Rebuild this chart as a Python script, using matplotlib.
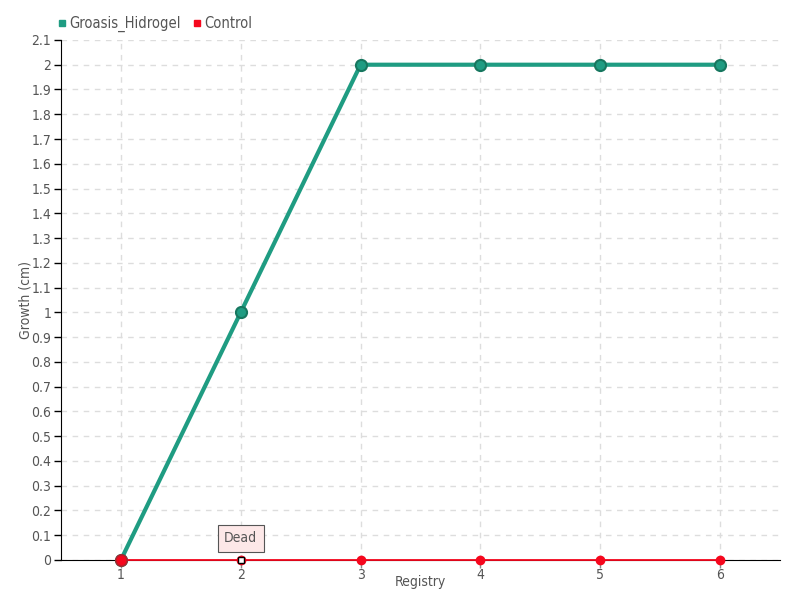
import numpy as np
import matplotlib.pyplot as plt
from matplotlib.lines import Line2D

registry = [1, 2, 3, 4, 5, 6]
groasis_hidrogel = [0, 1, 2, 2, 2, 2]
control = [0, 0, 0, 0, 0, 0]
y_ticks = [round(i * 0.1, 1) for i in range(22)]
y_labels = ["{:g}".format(v) for v in y_ticks]

plt.rcParams['font.family'] = ['DejaVu Sans']
plt.rcParams['font.stretch'] = 'condensed'
text_color = '#555555'
teal = '#1f9c82'
red = '#f5071d'

fig = plt.figure(figsize=(8, 6), dpi=100)
ax = fig.add_axes([0.07625, 0.0667, 0.89875, 0.8667])

ax.plot(registry, groasis_hidrogel, color=teal, lw=3, marker='o', ms=8,
        markerfacecolor=teal, markeredgecolor='#17775f', markeredgewidth=1.5,
        zorder=3, clip_on=False)
ax.plot(registry, control, color=red, lw=1.3, marker='o', ms=6,
        markerfacecolor=red, markeredgecolor=red, zorder=4, clip_on=False)
ax.plot(registry[0], control[0], marker='o', ms=8, markerfacecolor=red,
        markeredgecolor='#b5202a', markeredgewidth=1.2, zorder=5, clip_on=False)
ax.plot(registry[1], control[1], marker='s', ms=4.5, markerfacecolor='white',
        markeredgecolor='black', markeredgewidth=1, zorder=6, clip_on=False)

ax.annotate('Dead', xy=(registry[1], control[1]), xytext=(0, 15.5), textcoords='offset points',
            ha='center', va='center', fontsize=10, color=text_color,
            bbox=dict(boxstyle='square,pad=0.45', fc='#fde8e8', ec='#555555', lw=0.8),
            zorder=7)

ax.set_xlim(0.5, 6.5)
ax.set_ylim(0, 2.1)
ax.set_xticks(registry)
ax.set_yticks(y_ticks)
ax.set_yticklabels(y_labels)
ax.tick_params(colors=text_color, labelsize=10, length=5, width=1, pad=2)
ax.tick_params(axis='y', color='black')
ax.tick_params(axis='x', color='#888888', length=6, direction='out', pad=0)

ax.grid(True, color='#dddddd', linestyle=(0, (4, 4)), lw=1)
ax.set_axisbelow(True)
for s in ['top', 'right']:
    ax.spines[s].set_visible(False)
ax.spines['left'].set_color('black')
ax.spines['bottom'].set_color('black')

ax.set_xlabel('Registry', color=text_color, fontsize=10, labelpad=0)
ax.set_ylabel('Growth (cm)', color=text_color, fontsize=10)
ax.yaxis.set_label_coords(-0.039, 0.5)
ax.xaxis.set_label_coords(0.5, -0.028)

handles = [Line2D([], [], marker='s', ls='', color=teal, ms=5, label='Groasis_Hidrogel'),
           Line2D([], [], marker='s', ls='', color=red, ms=5, label='Control')]
fig.legend(handles=handles, loc='upper left', bbox_to_anchor=(0.052, 0.995), ncol=2,
           frameon=False, fontsize=10.5, handletextpad=0, columnspacing=0.6,
           handlelength=1, labelcolor=text_color)

fig.savefig('out.png', dpi=100)
